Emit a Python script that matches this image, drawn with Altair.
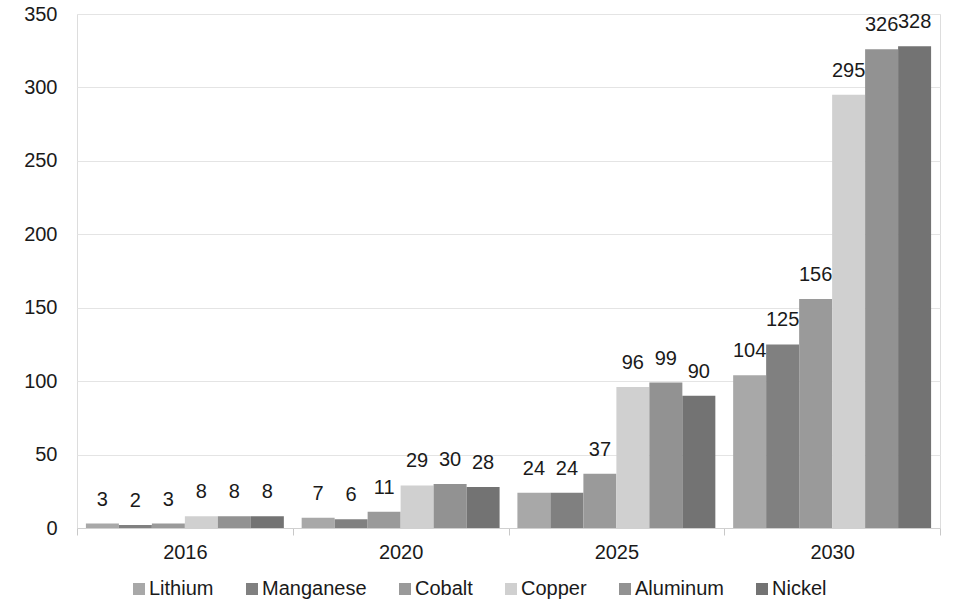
import altair as alt
import pandas as pd

years = ["2016", "2020", "2025", "2030"]
materials = ["Lithium", "Manganese", "Cobalt", "Copper", "Aluminum", "Nickel"]
colors = ["#a8a8a8", "#808080", "#9a9a9a", "#d0d0d0", "#929292", "#737373"]
values = {
    "Lithium":   [3, 7, 24, 104],
    "Manganese": [2, 6, 24, 125],
    "Cobalt":    [3, 11, 37, 156],
    "Copper":    [8, 29, 96, 295],
    "Aluminum":  [8, 30, 99, 326],
    "Nickel":    [8, 28, 90, 328],
}

rows = []
for m in materials:
    for y, v in zip(years, values[m]):
        rows.append({"year": y, "material": m, "value": v})
df = pd.DataFrame(rows)

FONT = "Liberation Sans"
FS = 20

x = alt.X("year:N", sort=years,
          scale=alt.Scale(paddingInner=0, paddingOuter=0),
          axis=alt.Axis(title=None, labelAngle=0, labelFontSize=FS, labelColor="#1a1a1a",
                        labelFont=FONT, tickBand="extent", tickSize=7, tickColor="#c8c8c8",
                        domainColor="#d0d0d0", labelPadding=7))
xo = alt.XOffset("material:N", sort=materials,
                 scale=alt.Scale(paddingInner=0, paddingOuter=0.27))
y = alt.Y("value:Q", scale=alt.Scale(domain=[0, 350], nice=False),
          axis=alt.Axis(title=None, values=list(range(0, 351, 50)), labelFontSize=FS,
                        labelColor="#1a1a1a", labelFont=FONT, ticks=False, domain=False,
                        gridColor="#e4e4e4", labelPadding=20))

color = alt.Color("material:N", sort=materials,
                  scale=alt.Scale(domain=materials, range=colors),
                  legend=alt.Legend(title=None, orient="none", direction="horizontal",
                                    legendX=52, legendY=565, symbolType="square",
                                    symbolSize=144, symbolStrokeWidth=0, labelFontSize=FS,
                                    labelFont=FONT, labelColor="#1a1a1a", columnPadding=28,
                                    labelOffset=0, symbolOpacity=1))

bars = alt.Chart(df).mark_bar(opacity=1).encode(x=x, xOffset=xo, y=y, color=color)
labels = alt.Chart(df).mark_text(baseline="bottom", dy=-14, fontSize=FS, font=FONT,
                                 color="#1a1a1a").encode(
    x=alt.X("year:N", sort=years), xOffset=alt.XOffset("material:N", sort=materials),
    y="value:Q", text="value:Q")

chart = (bars + labels).properties(
    width=863, height=514,
    autosize=alt.AutoSizeParams(type="none"),
    padding={"left": 77, "top": 14, "right": 22, "bottom": 73},
).configure_view(stroke=None).configure(background="white")

chart.save("out.html", embed_options={"renderer": "svg", "actions": False})
